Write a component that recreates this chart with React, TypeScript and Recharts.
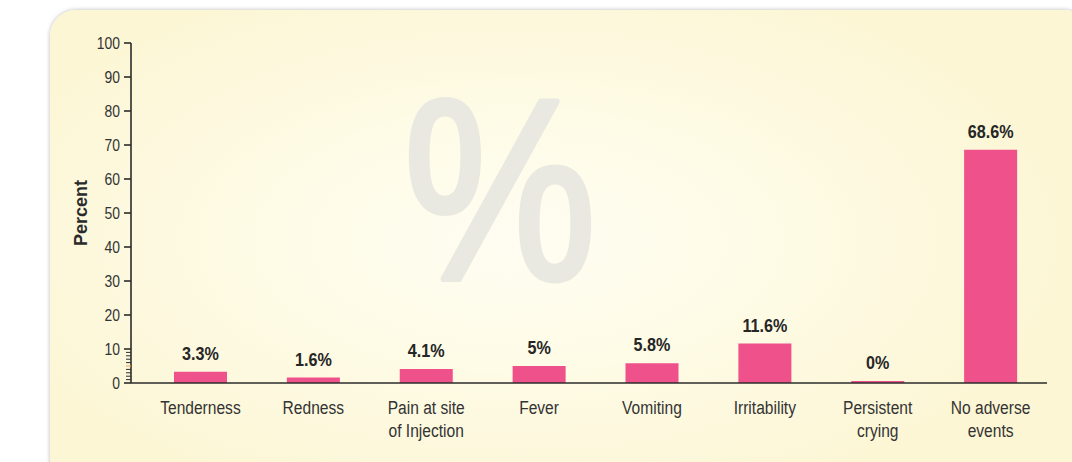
import { BarChart, Bar, XAxis, YAxis, LabelList } from 'recharts'

const categories = [
  'Tenderness',
  'Redness',
  'Pain at site\nof Injection',
  'Fever',
  'Vomiting',
  'Irritability',
  'Persistent\ncrying',
  'No adverse\nevents',
]
const percentValues = [3.3, 1.6, 4.1, 5, 5.8, 11.6, 0, 68.6]
const yTicks = [0, 1, 2, 3, 4, 5, 6, 7, 8, 9, 10, 20, 30, 40, 50, 60, 70, 80, 90, 100]

const chartData = categories.map((name, i) => ({ name, value: percentValues[i] }))

// no condensed Helvetica here, so squeeze Liberation Sans horizontally
const FONT = '"Liberation Sans", Arial, sans-serif'
const SQUEEZE = 0.82
const TICK_SIZE = 7
const TICK_MARGIN = 4

const YTick = ({ x, y, payload }: any) => {
  const axisX = x + TICK_SIZE + TICK_MARGIN
  const v = payload.value as number
  const major = v % 10 === 0
  return (
    <g>
      <line
        x1={axisX - (major ? 7 : 5)}
        x2={axisX}
        y1={y}
        y2={y}
        stroke={v === 5 ? '#f19a4a' : '#2b2b2b'}
        strokeWidth={major ? 1.6 : 1}
      />
      {major && (
        <text
          transform={`translate(${x},${y + 6}) scale(${SQUEEZE},1)`}
          textAnchor="end"
          fontFamily={FONT}
          fontSize={17}
          fill="#333"
        >
          {v}
        </text>
      )}
    </g>
  )
}

const XTick = ({ x, y, payload }: any) => {
  const lines = String(payload.value).split('\n')
  return (
    <g>
      {lines.map((l, i) => (
        <text
          key={i}
          transform={`translate(${x},${y + 23 + i * 23}) scale(${SQUEEZE},1)`}
          textAnchor="middle"
          fontFamily={FONT}
          fontSize={19}
          fill="#333"
        >
          {l}
        </text>
      ))}
    </g>
  )
}

const BarValue = ({ x, y, width, value }: any) => (
  <text
    transform={`translate(${x + width / 2},${y - 12}) scale(0.85,1)`}
    textAnchor="middle"
    fontFamily={FONT}
    fontWeight="bold"
    fontSize={19}
    fill="#262626"
  >
    {`${value}%`}
  </text>
)

const YLabel = ({ viewBox }: any) => {
  const cx = 81
  const cy = viewBox.y + viewBox.height / 2
  return (
    <text
      x={cx}
      y={cy}
      transform={`rotate(-90 ${cx} ${cy})`}
      textAnchor="middle"
      dominantBaseline="central"
      fontFamily={FONT}
      fontWeight="bold"
      fontSize={18}
      fill="#2a2a2a"
    >
      Percent
    </text>
  )
}

export default function App() {
  return (
    <div style={{ position: 'absolute', left: 0, top: 0, width: 1072, height: 462, overflow: 'hidden', background: '#fff' }}>
      <div
        style={{
          position: 'absolute',
          left: 50,
          top: 10,
          width: 1040,
          height: 480,
          borderRadius: 26,
          background:
            'radial-gradient(ellipse 55% 60% at 45% 48%, #fffdf2 0%, #fefbe6 45%, #fcf6d4 100%)',
          boxShadow: '0 0 4px rgba(0,0,0,0.28)',
        }}
      />
      <svg width={1072} height={462} style={{ position: 'absolute', left: 0, top: 0 }}>
        <text
          transform="translate(500,279) scale(0.84,1)"
          textAnchor="middle"
          fontFamily={FONT}
          fontSize={258}
          fill="#eae9e1"
          stroke="#eae9e1"
          strokeWidth={6}
          strokeLinejoin="round"
        >
          %
        </text>
      </svg>
      <div style={{ position: 'absolute', left: 0, top: 0 }}>
        <BarChart
          width={1072}
          height={462}
          data={chartData}
          margin={{ top: 43, right: 25, bottom: 19, left: 0 }}
        >
          <XAxis
            dataKey="name"
            interval={0}
            height={60}
            padding={{ left: 13, right: 0 }}
            tickLine={false}
            axisLine={{ stroke: '#2b2b2b', strokeWidth: 1.6 }}
            tick={<XTick />}
          />
          <YAxis
            width={131}
            domain={[0, 100]}
            ticks={yTicks}
            interval={0}
            tickLine={false}
            tickSize={TICK_SIZE}
            tickMargin={TICK_MARGIN}
            axisLine={{ stroke: '#2b2b2b', strokeWidth: 1.6 }}
            tick={<YTick />}
            label={<YLabel />}
          />
          <Bar dataKey="value" fill="#ef518a" barSize={53} minPointSize={2} isAnimationActive={false}>
            <LabelList dataKey="value" content={<BarValue />} />
          </Bar>
        </BarChart>
      </div>
    </div>
  )
}
